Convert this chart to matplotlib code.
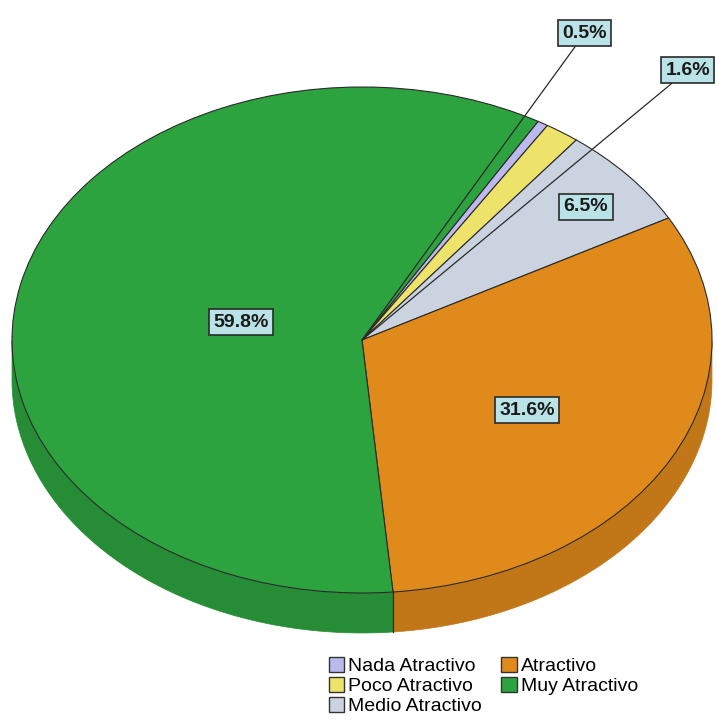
import numpy as np
import matplotlib.pyplot as plt
import matplotlib.colors as mcolors
from matplotlib.patches import Polygon, Patch

plt.rcParams["font.family"] = ["Liberation Sans", "DejaVu Sans"]

categories = ["Nada Atractivo", "Poco Atractivo", "Medio Atractivo", "Atractivo", "Muy Atractivo"]
percentages = [0.5, 1.6, 6.5, 31.6, 59.8]
colors = ["#bdb8ee", "#eee36a", "#cbd3e0", "#e08a1c", "#2ca33e"]

# where each percentage box sits (data units of the squashed pie)
label_pos = [(0.637, 1.213), (0.931, 1.067), (0.640, 0.526), (0.471, -0.277), (-0.346, 0.071)]
outside = [True, True, False, False, False]

START_ANGLE = 59.8
DEPTH = 0.158
SHADE = 0.86

fig = plt.figure(figsize=(7.17, 7.22), dpi=100)
ax = fig.add_axes([0, 0, 1, 1])

wedges, _ = ax.pie(
    percentages,
    colors=colors,
    startangle=START_ANGLE,
    counterclock=False,
    radius=1,
    center=(0, 0),
    wedgeprops=dict(edgecolor="#2a2a2a", linewidth=0.8),
)
for w in wedges:
    w.set_zorder(3)

# side wall of the disc, only the front half is visible
for w, color in zip(wedges, colors):
    t = np.linspace(w.theta1, w.theta2, 400)
    mask = np.sin(np.radians(t)) <= 0
    if not mask.any():
        continue
    tt = np.radians(t[mask])
    top = np.column_stack([np.cos(tt), np.sin(tt)])
    bottom = top[::-1] - [0, DEPTH]
    rgb = np.array(mcolors.to_rgb(color)) * SHADE
    ax.add_patch(Polygon(np.vstack([top, bottom]), closed=True, facecolor=rgb,
                         edgecolor=rgb, linewidth=0.5, zorder=2))
    for edge in (w.theta1, w.theta2):
        a = np.radians(edge)
        if np.sin(a) < -0.05:
            ax.plot([np.cos(a), np.cos(a)], [np.sin(a), np.sin(a) - DEPTH],
                    color="#2a2a2a", linewidth=0.8, zorder=2.5)

box = dict(boxstyle="square,pad=0.22", facecolor="#b9e3e6", edgecolor="#2a2a2a", linewidth=1.2)
for pct, pos, out in zip(percentages, label_pos, outside):
    if out:
        ax.annotate(f"{pct:.1f}%", xy=(0, 0), xytext=pos, ha="center", va="center",
                    fontsize=14, fontweight="bold", color="#1a1a1a", bbox=box, zorder=5,
                    arrowprops=dict(arrowstyle="-", color="#2a2a2a", linewidth=0.9,
                                    shrinkA=0, shrinkB=0))
    else:
        ax.text(pos[0], pos[1], f"{pct:.1f}%", ha="center", va="center",
                fontsize=14, fontweight="bold", color="#1a1a1a", bbox=box, zorder=5)

ax.set_aspect("auto")
ax.set_xlim(-1.0343, 1.0143)
ax.set_ylim(-1.5099, 1.3439)
ax.axis("off")

handles = [Patch(facecolor=c, edgecolor="#333333", linewidth=1.0) for c in colors]
fig.legend(handles, categories, ncol=2, loc="upper left", bbox_to_anchor=(0.445, 0.104),
           frameon=False, fontsize=14, handlelength=0.8, handleheight=0.8,
           handletextpad=0.2, columnspacing=1.0, labelspacing=0.1, borderpad=0)

fig.savefig("out.png", dpi=100)
